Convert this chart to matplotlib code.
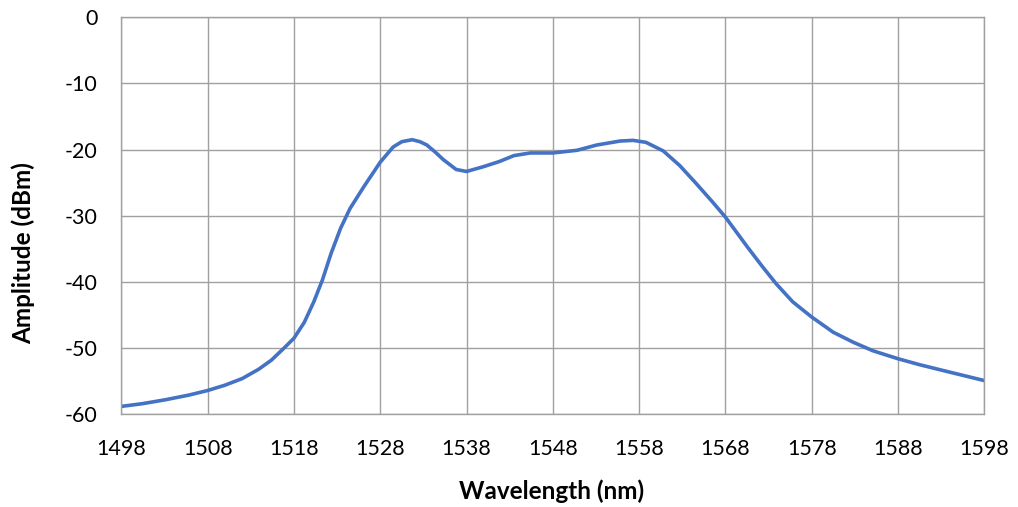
import matplotlib
matplotlib.use('Agg')
import matplotlib.pyplot as plt

# values
wavelength = [1498, 1500.4, 1503.1, 1505.8, 1508, 1510, 1512, 1513.9, 1515.4, 1517,
              1518, 1519.2, 1520.3, 1521.3, 1522.3, 1523.4, 1524.5, 1526.1, 1528, 1529.5,
              1530.5, 1531.7, 1532.6, 1533.4, 1534.4, 1535.3, 1536.8, 1538, 1539.9, 1541.8,
              1543.5, 1545.4, 1548, 1550.8, 1553.1, 1555.8, 1557.3, 1558.8, 1560.8, 1562.7,
              1564.6, 1566.5, 1568, 1570.6, 1572.3, 1573.9, 1575.8, 1578, 1580.5, 1582.8,
              1585.1, 1588, 1590.5, 1593.6, 1598]
amplitude = [-58.8, -58.4, -57.8, -57.1, -56.4, -55.6, -54.6, -53.2, -51.8, -49.8,
             -48.5, -46.1, -43.0, -39.7, -35.7, -31.9, -28.9, -25.6, -21.9, -19.6,
             -18.8, -18.5, -18.8, -19.3, -20.4, -21.5, -23.0, -23.3, -22.6, -21.8,
             -20.9, -20.5, -20.5, -20.1, -19.3, -18.7, -18.6, -18.9, -20.2, -22.4,
             -25.1, -27.9, -30.2, -34.8, -37.7, -40.3, -43.0, -45.3, -47.6, -49.1,
             -50.4, -51.6, -52.5, -53.5, -54.9]

plt.rcParams['font.family'] = ['Lato', 'DejaVu Sans']
plt.rcParams['axes.unicode_minus'] = False

fig = plt.figure(figsize=(10.18, 5.07), dpi=100)
ax = fig.add_axes([0.1192, 0.1828, 0.8477, 0.7831])

ax.plot(wavelength, amplitude, color='#4472C4', linewidth=2.6,
        solid_joinstyle='round', solid_capstyle='butt')

ax.set_xlim(1498, 1598)
ax.set_ylim(-60, 0)
ax.set_xticks(range(1498, 1599, 10))
ax.set_yticks(range(-60, 1, 10))
ax.grid(True, color='#A0A0A0', linewidth=1.0)
ax.set_axisbelow(True)
for s in ax.spines.values():
    s.set_color('#A0A0A0')
    s.set_linewidth(1.0)
ax.tick_params(length=0, labelsize=15.5, colors='black')
ax.tick_params(axis='x', pad=18)
ax.tick_params(axis='y', pad=17)

ax.set_xlabel('Wavelength (nm)', fontsize=17.5, fontweight='bold', va='center')
ax.xaxis.set_label_coords(0.4988, -0.1925)
ax.set_ylabel('Amplitude (dBm)', fontsize=17.5, fontweight='bold', va='center')
ax.yaxis.set_label_coords(-0.1139, 0.406)

fig.savefig('out.png', dpi=100)
